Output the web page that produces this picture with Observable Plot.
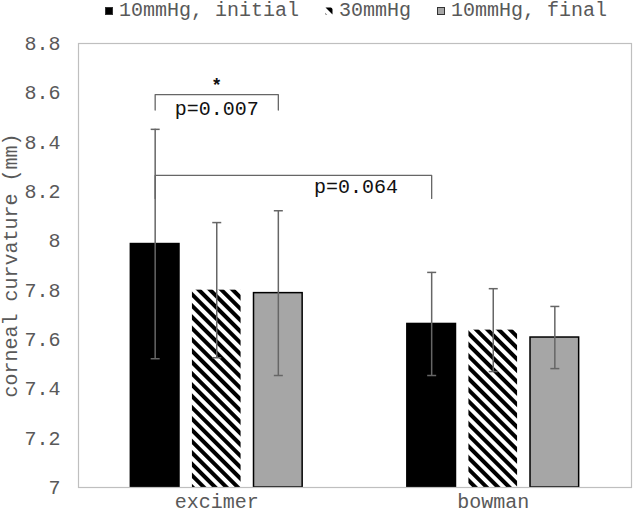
<!DOCTYPE html>
<html><head><meta charset="utf-8">
<script src="https://cdn.jsdelivr.net/npm/d3@7"></script>
<script src="https://cdn.jsdelivr.net/npm/@observablehq/plot@0.6"></script>
<style>
body{margin:0;background:#fff;font-family:"Liberation Mono",monospace;}
#legend{height:26px;display:flex;align-items:flex-start;padding-left:105px;gap:26px;font-size:20px;line-height:22px;color:#595959;box-sizing:border-box;}
#legend .item{display:flex;align-items:center;gap:6px;white-space:pre;}
#legend svg{display:block;}
</style></head><body>
<div id="legend"></div>
<div id="chart"></div>
<script>
// ---- data ----
const groups = ["excimer", "bowman"];
const seriesNames = ["10mmHg, initial", "30mmHg", "10mmHg, final"];
const excimerMean = [7.987, 7.800, 7.788];
const excimerSD   = [0.465, 0.274, 0.334];
const bowmanMean  = [7.663, 7.638, 7.608];
const bowmanSD    = [0.209, 0.168, 0.126];
const yTicks = [7, 7.2, 7.4, 7.6, 7.8, 8, 8.2, 8.4, 8.6, 8.8];
// significance brackets: endpoints as [group, series index]
const bracketFrom  = [["excimer", 0], ["excimer", 0]];
const bracketTo    = [["excimer", 2], ["bowman", 0]];
const bracketTop   = [8.593, 8.265];
const bracketEnd   = [8.530, 8.172];
const bracketText  = ["p=0.007", "p=0.064"];
const bracketTextY = [8.535, 8.218];
const bracketStar  = ["*", ""];
const bracketStarY = [8.632, 0];

// ---- styles ----
const seriesFill = ["#000000", "url(#hatch)", "#a6a6a6"];
const seriesStroke = ["#000000", "none", "#000000"];
const labelAt = [0.5, 0.726];

// ---- layout via band scales ----
const meansByGroup = [excimerMean, bowmanMean];
const sdByGroup = [excimerSD, bowmanSD];
const groupBand = d3.scaleBand(groups, [0, 1]);
const seriesBand = d3.scaleBand(d3.range(seriesNames.length), [0, groupBand.bandwidth()])
  .paddingInner(0.21).paddingOuter(0.85);
const xc = (g, si) => groupBand(g) + seriesBand(si) + seriesBand.bandwidth() / 2;

const rows = groups.flatMap((g, gi) => seriesNames.map((s, si) => ({
  group: g, series: s, si,
  mean: meansByGroup[gi][si], sd: sdByGroup[gi][si],
  x1: groupBand(g) + seriesBand(si),
  x2: groupBand(g) + seriesBand(si) + seriesBand.bandwidth(),
  xc: xc(g, si)
})));
const caps = rows.flatMap(d => [{xc: d.xc, y: d.mean - d.sd}, {xc: d.xc, y: d.mean + d.sd}]);

const bracketPts = bracketFrom.flatMap((f, i) => {
  const a = xc(f[0], f[1]), b = xc(bracketTo[i][0], bracketTo[i][1]);
  return [
    {id: i, x: a, y: bracketEnd[i]}, {id: i, x: a, y: bracketTop[i]},
    {id: i, x: b, y: bracketTop[i]}, {id: i, x: b, y: bracketEnd[i]}
  ];
});
const bracketLabels = bracketFrom.map((f, i) => {
  const a = xc(f[0], f[1]), b = xc(bracketTo[i][0], bracketTo[i][1]);
  return {x: a + (b - a) * labelAt[i], mid: (a + b) / 2, text: bracketText[i], y: bracketTextY[i], star: bracketStar[i], starY: bracketStarY[i]};
});
const groupCenters = groups.map(g => groupBand(g) + groupBand.bandwidth() / 2);
const centerName = new Map(groupCenters.map((c, i) => [c, groups[i]]));

const capSymbol = {draw(ctx) { ctx.moveTo(-4.5, 0); ctx.lineTo(4.5, 0); }};

const plot = Plot.plot({
  width: 633, height: 488,
  marginTop: 17, marginBottom: 27, marginLeft: 78, marginRight: 2,
  style: {fontFamily: "Liberation Mono, monospace", fontSize: "20px", background: "#fff"},
  x: {domain: [0, 1]},
  y: {domain: [yTicks[0], yTicks[yTicks.length - 1]]},
  marks: [
    Plot.rect(rows, {x1: "x1", x2: "x2", y1: () => yTicks[0], y2: "mean",
      fill: d => seriesFill[d.si], stroke: d => seriesStroke[d.si], strokeWidth: 1.5}),
    Plot.ruleX(rows, {x: "xc", y1: d => d.mean - d.sd, y2: d => d.mean + d.sd, stroke: "#666", strokeWidth: 1.5}),
    Plot.dot(caps, {x: "xc", y: "y", symbol: capSymbol, stroke: "#666", strokeWidth: 1.5}),
    Plot.line(bracketPts, {x: "x", y: "y", z: "id", stroke: "#666", strokeWidth: 1.3}),
    Plot.text(bracketLabels, {x: "x", y: "y", text: "text", fill: "#111", fontSize: 20}),
    Plot.text(bracketLabels.filter(d => d.star), {x: "mid", y: "starY", text: "star", fill: "#111", fontSize: 18, fontWeight: "bold"}),
    Plot.frame({stroke: "#bfbfbf", strokeWidth: 1.2}),
    Plot.axisY({ticks: yTicks, tickFormat: d => `${d}`, tickSize: 0, tickPadding: 18, color: "#595959",
      label: "corneal curvature (mm)", labelAnchor: "center", labelOffset: 76, labelArrow: "none"}),
    Plot.axisX({ticks: groupCenters, tickFormat: d => centerName.get(d), tickSize: 0, tickPadding: 6,
      color: "#595959", label: null})
  ]
});

// hatch pattern
const svgNS = "http://www.w3.org/2000/svg";
function addHatch(svg, id) {
  const defs = document.createElementNS(svgNS, "defs");
  defs.innerHTML = `<pattern id="${id}" patternUnits="userSpaceOnUse" width="8" height="8" patternTransform="rotate(-45)">
    <rect x="0" y="0" width="8" height="8" fill="#fff"/><rect x="0" y="0" width="4" height="8" fill="#000"/></pattern>`;
  svg.insertBefore(defs, svg.firstChild);
}
addHatch(plot, "hatch");
document.getElementById("chart").appendChild(plot);

// legend
const legend = document.getElementById("legend");
seriesNames.forEach((name, i) => {
  const item = document.createElement("div");
  item.className = "item";
  const sw = document.createElementNS(svgNS, "svg");
  sw.setAttribute("width", 8); sw.setAttribute("height", 8);
  if (i === 1) addHatch(sw, "hatchLegend");
  const r = document.createElementNS(svgNS, "rect");
  r.setAttribute("x", 0.5); r.setAttribute("y", 0.5); r.setAttribute("width", 7); r.setAttribute("height", 7);
  r.setAttribute("fill", i === 1 ? "url(#hatchLegend)" : seriesFill[i]);
  r.setAttribute("stroke", i === 1 ? "none" : "#333");
  sw.appendChild(r);
  const t = document.createElement("span");
  t.textContent = name;
  item.appendChild(sw); item.appendChild(t);
  legend.appendChild(item);
});
</script>
</body></html>
